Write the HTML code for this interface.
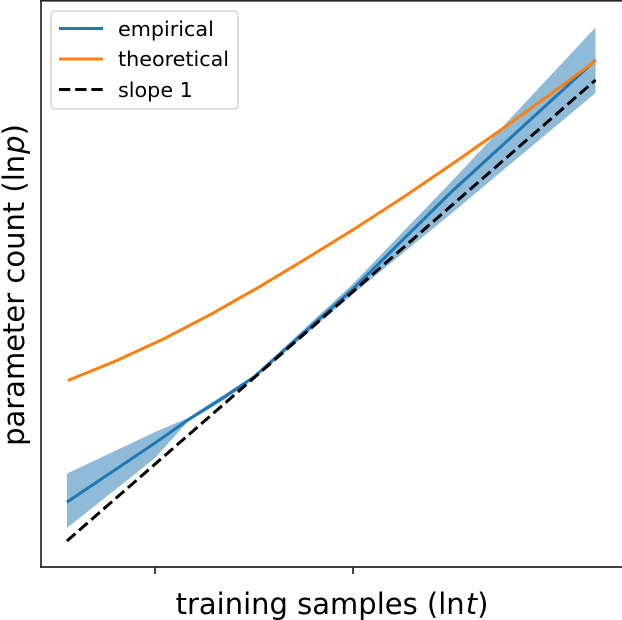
<!DOCTYPE html>
<html>
<head>
<meta charset="utf-8">
<style>
html,body{margin:0;padding:0;background:#fff;width:622px;height:620px;overflow:hidden}
svg{display:block}
text{font-family:"DejaVu Sans","Liberation Sans",sans-serif;fill:#000}
</style>
</head>
<body>
<svg id="chart" width="622" height="620" viewBox="0 0 622 620" xmlns="http://www.w3.org/2000/svg">
  <g id="marks"></g>
  <line x1="41" y1="0" x2="41" y2="568" stroke="#262626" stroke-width="1.7"/>
  <line x1="40" y1="567" x2="622" y2="567" stroke="#262626" stroke-width="1.7"/>
  <line x1="40" y1="0.8" x2="622" y2="0.8" stroke="#262626" stroke-width="1.7"/>
  <g id="ticks"></g>
  <text x="332" y="614" font-size="29" text-anchor="middle">training samples (ln<tspan font-style="italic" dx="1">t</tspan>)</text>
  <text transform="translate(24,285) rotate(-90)" font-size="29" text-anchor="middle">parameter count (ln<tspan font-style="italic" dx="1">p</tspan>)</text>
  <g>
    <rect x="51" y="11" width="187" height="98" rx="4" ry="4" fill="#fff" fill-opacity="0.8" stroke="#d6d6d6" stroke-width="1.6"/>
    <line x1="59" y1="28.5" x2="103" y2="28.5" stroke="#1f77b4" stroke-width="3"/>
    <text x="118" y="36" font-size="20.7">empirical</text>
    <line x1="59" y1="59" x2="103" y2="59" stroke="#ff7f0e" stroke-width="3"/>
    <text x="118" y="66" font-size="20.7">theoretical</text>
    <line x1="59" y1="89.5" x2="103" y2="89.5" stroke="#000" stroke-width="3" stroke-dasharray="11.3 4.9"/>
    <text x="118" y="97" font-size="20.7">slope 1</text>
  </g>
</svg>
<script>
const xTicks = [6, 8];
const empiricalX = [5.11, 6, 6.33, 6.69, 7, 8, 9, 10.45];
const empiricalMean = [5.56, 6.245, 6.51, 6.77, 7.01, 8.03, 9.16, 10.68];
const empiricalUpper = [5.89, 6.373, 6.535, 6.80, 7.03, 8.09, 9.28, 11.06];
const empiricalLower = [5.26, 6.07, 6.49, 6.74, 6.99, 7.97, 8.91, 10.30];
const theoryX = [5.12, 5.606, 6.091, 6.576, 7.061, 7.545, 8.03, 8.515, 9.0, 9.485, 9.97, 10.455];
const theoryY = [6.969, 7.197, 7.453, 7.743, 8.059, 8.393, 8.737, 9.098, 9.476, 9.865, 10.266, 10.677];
const slopeX = [5.11, 10.45];
const slopeY = [5.11, 10.45];

function xScale(v) { return 155 + (v - 6) * 99; }
function yScale(v) { return 541 - (v - 5.11) * 86.33; }

const NS = 'http://www.w3.org/2000/svg';
const marks = document.getElementById('marks');
const ticks = document.getElementById('ticks');

function pts(xs, ys) {
  return xs.map(function (x, i) { return xScale(x).toFixed(2) + ',' + yScale(ys[i]).toFixed(2); });
}

const band = document.createElementNS(NS, 'polygon');


band.setAttribute('points', pts(empiricalX, empiricalUpper).concat(pts(empiricalX, empiricalLower).reverse()).join(' '));
band.setAttribute('fill', '#1f77b4');
band.setAttribute('fill-opacity', '0.5');
marks.appendChild(band);

const empiricalLine = document.createElementNS(NS, 'polyline');


empiricalLine.setAttribute('points', pts(empiricalX, empiricalMean).join(' '));
empiricalLine.setAttribute('fill', 'none');
empiricalLine.setAttribute('stroke', '#1f77b4');
empiricalLine.setAttribute('stroke-width', '3');
marks.appendChild(empiricalLine);

const theoryLine = document.createElementNS(NS, 'polyline');


theoryLine.setAttribute('points', pts(theoryX, theoryY).join(' '));
theoryLine.setAttribute('fill', 'none');
theoryLine.setAttribute('stroke', '#ff7f0e');
theoryLine.setAttribute('stroke-width', '3');
theoryLine.setAttribute('stroke-linejoin', 'round');
marks.appendChild(theoryLine);

const slopeLine = document.createElementNS(NS, 'polyline');


slopeLine.setAttribute('points', pts(slopeX, slopeY).join(' '));
slopeLine.setAttribute('fill', 'none');
slopeLine.setAttribute('stroke', '#000');
slopeLine.setAttribute('stroke-width', '3');
slopeLine.setAttribute('stroke-dasharray', '11.3 4.9');
marks.appendChild(slopeLine);

xTicks.forEach(function (t) {
  const tick = document.createElementNS(NS, 'line');
  
  
  tick.setAttribute('x1', xScale(t));
  tick.setAttribute('x2', xScale(t));
  tick.setAttribute('y1', 567);
  tick.setAttribute('y2', 574);
  tick.setAttribute('stroke', '#262626');
  tick.setAttribute('stroke-width', '1.7');
  ticks.appendChild(tick);
});
</script>
</body>
</html>
